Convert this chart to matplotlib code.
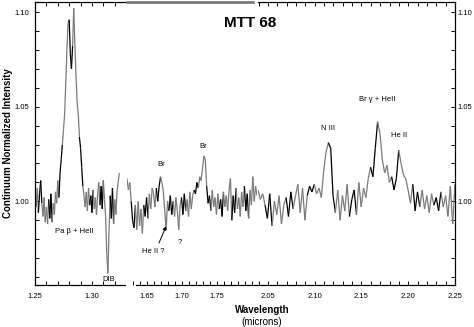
import numpy as np
import matplotlib
matplotlib.use("Agg")
import matplotlib.pyplot as plt
from matplotlib.ticker import MultipleLocator, FixedLocator
from matplotlib.collections import LineCollection

plt.rcParams['font.family'] = ['Liberation Sans', 'DejaVu Sans']

# ---------------- data ----------------
# Panel 1 : J band (Pa beta region)
wl1_range = (1.250, 1.324)
flux1 = [1.008, 0.997, 1.007, 0.994, 1.004, 1.011, 0.999,
         0.992, 1.002, 0.989, 0.997, 0.988, 1.001, 0.991, 1.004, 0.989, 0.999, 0.993,
         1.005, 0.999, 1.011, 1.002, 1.015, 1.022,
         1.030, 1.038, 1.046, 1.062, 1.080, 1.094, 1.096, 1.078, 1.070, 1.082,
         1.102, 1.083, 1.066, 1.052, 1.046, 1.034, 1.028, 1.018, 1.008, 1.003,
         0.997, 1.005, 0.995, 1.007, 0.998, 1.003, 0.994, 1.006, 0.996, 1.002, 0.993, 1.004,
         1.010, 0.998, 1.008, 0.996, 1.011, 1.001, 0.992,
         0.972, 0.962, 0.985, 1.003,
         0.991, 1.007, 0.988, 1.001, 0.993, 1.005,
         1.010, 1.015]

# Panel 2 : H band
wl2_range = (1.6214, 1.807)
flux2 = [1.012, 1.006, 1.010, 1.000, 0.990, 0.986,
         0.998, 0.985, 1.000, 0.987, 0.996, 0.983,
         0.998, 0.992, 1.002, 0.991, 1.004, 0.996, 1.007,
         1.004, 0.997, 1.007, 1.000, 1.008, 1.013, 1.010,
         1.005, 0.995, 0.985, 1.000,
         0.995, 1.003, 0.993, 1.000, 0.992, 1.002, 0.995, 0.985, 0.998,
         1.002, 0.993, 1.004, 0.995, 1.001, 0.992, 1.005, 0.996, 1.003, 1.006,
         1.004, 1.010, 1.007, 1.013, 1.011, 1.017, 1.024, 1.022, 1.008, 0.999,
         1.003, 0.995, 1.006, 0.997, 1.002, 0.993, 1.004, 0.996, 1.001, 0.992,
         1.005, 0.997, 1.003, 0.995, 1.006, 1.012, 0.990,
         1.003, 0.994, 1.007, 0.996, 1.002, 0.992, 1.005, 0.997, 1.008, 0.995,
         1.004, 0.991, 1.006, 0.998, 1.013, 1.000, 1.008, 1.003]

# Panel 3 : K band
wl3_range = (2.0394, 2.250)
flux3 = [1.006, 1.001, 1.004, 0.998, 0.991, 1.004, 0.987, 1.000,
         0.993, 1.003, 0.988, 0.998, 1.002, 0.992, 1.005, 0.996, 1.003,
         1.009, 0.994, 1.007, 0.990, 1.003, 1.008, 1.005, 1.009, 1.004, 1.007, 1.002,
         1.016, 1.026, 1.031, 1.028, 1.003,
         0.994, 1.006, 0.990, 1.003, 0.995, 1.009, 0.992, 1.001,
         1.006, 0.993, 1.010, 0.997, 1.007, 1.002,
         1.012, 1.018, 1.013, 1.028, 1.042, 1.036, 1.022,
         1.015, 1.019, 1.010, 1.013, 1.006, 1.012,
         1.027, 1.020, 1.014, 1.012,
         1.006, 0.999, 1.009, 0.995, 1.005, 0.997, 1.006, 0.996, 1.003, 0.994,
         1.004, 0.998, 1.002, 0.995, 1.005, 0.997, 1.003, 0.992, 1.008, 0.988, 1.009]

ytick_vals = [1.00, 1.05, 1.10]
ytick_labels = ["1.00", "1.05", "1.10"]
xticks1 = [1.25, 1.30]
xticks2 = [1.65, 1.70, 1.75]
xticks3 = [2.05, 2.10, 2.15, 2.20, 2.25]

# ---------------- figure ----------------
W, H = 474, 327
fig = plt.figure(figsize=(W / 100, H / 100), dpi=100)

def fx(px):
    return px / W

def fy(py):
    return 1 - py / H

ybot, ytop = 0.9558, 1.1053
top_px, bot_px = 2, 285
ax1 = fig.add_axes([fx(35), fy(bot_px), fx(125 - 35), fy(top_px) - fy(bot_px)])
ax2 = fig.add_axes([fx(127), fy(bot_px), fx(257 - 127), fy(top_px) - fy(bot_px)])
ax3 = fig.add_axes([fx(258), fy(bot_px), fx(455 - 258), fy(top_px) - fy(bot_px)])

ax1.set_xlim(1.25, 1.329)
ax2.set_xlim(1.6214, 1.807)
ax3.set_xlim(2.0394, 2.25)

GRAY = "#7a7a7a"

def draw_spec(ax, rng, flux):
    wl = np.linspace(rng[0], rng[1], len(flux))
    pts = np.column_stack([wl, flux])
    segs = np.stack([pts[:-1], pts[1:]], axis=1)
    cols = ["black" if (i // 3) % 3 == 1 else GRAY for i in range(len(segs))]
    lc = LineCollection(segs, colors=cols, linewidths=0.9, capstyle="butt")
    ax.add_collection(lc)

draw_spec(ax1, wl1_range, flux1)
draw_spec(ax2, wl2_range, flux2)
draw_spec(ax3, wl3_range, flux3)

for ax, xt in ((ax1, xticks1), (ax2, xticks2), (ax3, xticks3)):
    ax.set_ylim(ybot, ytop)
    ax.set_facecolor("none")
    ax.xaxis.set_major_locator(FixedLocator(xt))
    ax.xaxis.set_minor_locator(MultipleLocator(0.01))
    ax.set_xticklabels([f"{v:.2f}" for v in xt])
    ax.tick_params(axis="x", which="both", direction="in", top=True, bottom=True,
                   length=3, width=0.7, labelsize=5.5, pad=6, color="black")
    ax.tick_params(axis="y", which="both", length=0)
    for s in ax.spines.values():
        s.set_linewidth(0.9)
        s.set_color("black")

# left panel
ax1.spines["right"].set_visible(False)
ax1.yaxis.set_major_locator(FixedLocator(ytick_vals))
ax1.set_yticklabels(ytick_labels)
ax1.yaxis.set_minor_locator(MultipleLocator(0.01))
ax1.tick_params(axis="y", which="both", direction="in", left=True, right=False,
                length=3, width=0.7, labelsize=5.5, pad=4)

# middle panel
ax2.spines["left"].set_visible(False)
ax2.spines["right"].set_visible(False)
ax2.spines["top"].set_color(GRAY)
ax2.spines["top"].set_linewidth(2.0)
ax2.spines["top"].set_bounds(1.6214, 1.801)
ax2.spines["bottom"].set_bounds(1.634, 1.807)
ax2.set_yticks([])
ax2.tick_params(axis="x", which="both", top=False)

# right panel
ax3.spines["left"].set_visible(False)
ax3.yaxis.tick_right()
ax3.yaxis.set_major_locator(FixedLocator(ytick_vals))
ax3.set_yticklabels(ytick_labels)
ax3.yaxis.set_minor_locator(MultipleLocator(0.01))
ax3.tick_params(axis="y", which="both", direction="in", left=False, right=True,
                length=3, width=0.7, labelsize=5.5, pad=1.5)

# annotations
tkw = dict(fontsize=5.5, ha="center", va="center")
ax1.text(1.2842, 0.984, "Pa β + HeII", **tkw)
ax1.text(1.3149, 0.9585, "DIB", **tkw)
ax2.text(1.670, 1.0195, "Br", **tkw)
ax2.text(1.730, 1.029, "Br", **tkw)
ax2.text(1.6586, 0.9737, "He II ?", **tkw)
ax2.text(1.6971, 0.9784, "?", **tkw)
ax2.annotate("", xy=(1.6771, 0.9868), xytext=(1.6671, 0.978),
             arrowprops=dict(arrowstyle="-|>", lw=0.7, color="black",
                             mutation_scale=5, shrinkA=0, shrinkB=0))
ax3.text(2.1138, 1.0384, "N III", **tkw)
ax3.text(2.167, 1.0537, "Br γ + HeII", **tkw)
ax3.text(2.1904, 1.0347, "He II", **tkw)

fig.text(fx(250), fy(23), "MTT 68", fontsize=11, fontweight="bold",
         ha="center", va="center")
fig.text(fx(262), fy(310), "Wavelength", fontsize=7, fontweight="bold",
         ha="center", va="center")
fig.text(fx(262), fy(322), "(microns)", fontsize=7, ha="center", va="center")
fig.text(fx(8), fy(143), "Continuum Normalized Intensity", fontsize=7,
         fontweight="bold", rotation=90, ha="center", va="center")

fig.savefig("out.png", dpi=100)
